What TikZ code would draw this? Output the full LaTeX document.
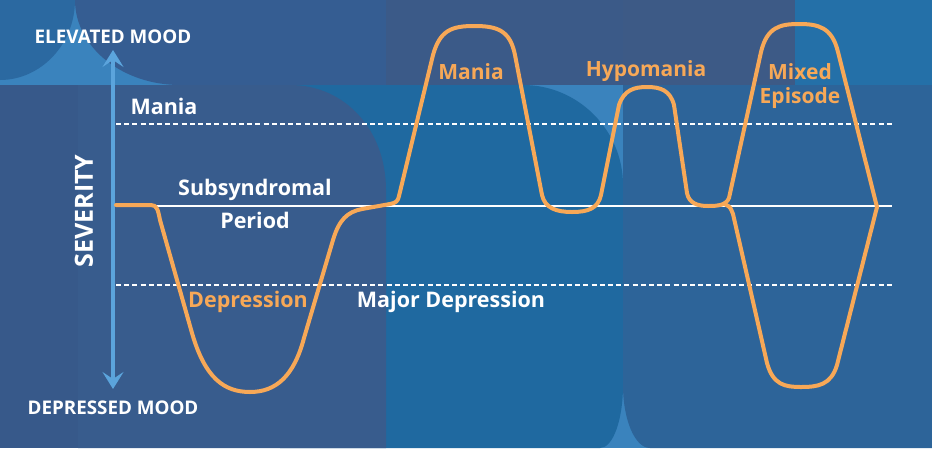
\documentclass[tikz,border=0pt]{standalone}
\usepackage{fontspec}
\setmainfont{Open Sans}
\usetikzlibrary{arrows.meta}
\definecolor{bglight}{HTML}{3A83BD}
\definecolor{bgcorner}{HTML}{2B69A1}
\definecolor{bgtopleft}{HTML}{355D92}
\definecolor{bgstrip}{HTML}{37598A}
\definecolor{bgslate}{HTML}{385C8D}
\definecolor{bgbright}{HTML}{1F69A0}
\definecolor{bgtopmid}{HTML}{3B5A88}
\definecolor{bgtopright}{HTML}{3D5A86}
\definecolor{bgcornerright}{HTML}{2470A8}
\definecolor{bgright}{HTML}{2D6499}
\definecolor{axisblue}{HTML}{5BA4DC}
\definecolor{moodorange}{HTML}{F7A857}
\tikzset{
  level/.style={white, line width=2pt, dash pattern=on 5pt off 3.2pt},
  moodline/.style={moodorange, line width=4pt, line join=round, line cap=round},
  wlabel/.style={text=white, font=\fontsize{21.5}{23}\selectfont\bfseries, inner sep=0pt},
  olabel/.style={text=moodorange, font=\fontsize{21}{24}\selectfont\bfseries, inner sep=0pt},
  endlabel/.style={text=white, font=\fontsize{18.8}{20}\selectfont\bfseries, inner sep=0pt}
}
\begin{document}
\begin{tikzpicture}[x=1pt,y=-1pt]
  \useasboundingbox (0,0) rectangle (932,448);

  % background
  \fill[bglight] (0,0) rectangle (932,448);
  \fill[bgcorner] (0,0) -- (75,0) .. controls (75,44) and (41,80) .. (0,80) -- cycle;
  \fill[bgtopleft] (75,0) -- (386,0) -- (386,85) -- (180,85) .. controls (122,85) and (75,47) .. (75,0) -- cycle;
  \fill[bgtopmid] (386,0) rectangle (623,85);
  \fill[bgtopright] (623,0) rectangle (795,85);
  \fill[bgcornerright] (795,0) rectangle (932,85);
  \fill[bgbright] (280,85) -- (523,85) .. controls (578,85) and (623,130) .. (623,185)
    -- (623,385) .. controls (623,420) and (613,448) .. (600,448) -- (280,448) -- cycle;
  \fill[bgright] (623,85) -- (932,85) -- (932,448) -- (650,448)
    .. controls (635,448) and (623,420) .. (623,385) -- cycle;
  \fill[bgstrip] (0,85) rectangle (78,448);
  \fill[bgslate] (78,85) -- (290,85) .. controls (345,85) and (386,130) .. (386,190)
    -- (386,448) -- (78,448) -- cycle;

  \coordinate (up) at (113,50);
  \coordinate (down) at (113,389);
  \coordinate (m0) at (116,124);
  \coordinate (m1) at (893,124);
  \coordinate (s0) at (116,206);
  \coordinate (s1) at (892,206);
  \coordinate (d0) at (116,285);
  \coordinate (d1) at (893,285);

  % levels
  \draw[level] (m0) -- (m1);
  \draw[level] (d0) -- (d1);
  \draw[white, line width=2.5pt] (s0) -- (s1);

  % severity axis
  \draw[axisblue, line width=4pt,
    {Stealth[length=17pt,width=21pt,inset=7pt]}-{Stealth[length=17pt,width=21pt,inset=7pt]}]
    (up) -- (down);

  % mood course
  \draw[moodline] (116,205) -- (151,205)
    .. controls (157,205) and (158,210) .. (160,220)
    -- (192,333)
    .. controls (205,378) and (224,392) .. (250,392)
    .. controls (276,392) and (294,376) .. (304,338)
    -- (333,240)
    .. controls (339,220) and (347,212) .. (362,209)
    -- (390,204)
    .. controls (396,203) and (398,201) .. (399,196)
    -- (433,55)
    .. controls (440,30) and (452,26) .. (474,26)
    .. controls (497,26) and (510,30) .. (515,55)
    -- (542,195)
    .. controls (545,208) and (556,212) .. (572,212)
    .. controls (589,212) and (598,208) .. (601,195)
    -- (619,105)
    .. controls (624,90) and (634,87) .. (647,87)
    .. controls (660,87) and (670,90) .. (674,105)
    -- (687,193)
    .. controls (689,203) and (697,206) .. (708,206)
    .. controls (719,206) and (726,205) .. (729,198)
    -- (761,52)
    .. controls (767,27) and (780,24) .. (799,24)
    .. controls (818,24) and (832,27) .. (838,52)
    -- (877,207);
  \draw[moodline] (726,205) .. controls (730,206) and (731,209) .. (733,214)
    -- (767,363)
    .. controls (773,385) and (785,387) .. (801,387)
    .. controls (818,387) and (831,385) .. (837,365)
    -- (877,207);

  % labels
  \node[endlabel] (elevated) at (113,37) {ELEVATED MOOD};
  \node[endlabel] (depressed) at (113,408) {DEPRESSED MOOD};
  \node[wlabel, font=\fontsize{25}{28}\selectfont\bfseries, rotate=90] (severity) at (84,211) {SEVERITY};
  \node[wlabel] (manialvl) at (164,106) {Mania};
  \node[wlabel] (sub) at (255,190) {Subsyndromal};
  \node[wlabel] (period) at (255,220) {Period};
  \node[wlabel] (majordep) at (451,302) {Major Depression};
  \node[olabel, font=\fontsize{21.5}{23}\selectfont\bfseries] (dep) at (248,302) {Depression};
  \node[olabel] (mania) at (471,72) {Mania};
  \node[olabel] (hypo) at (646,71) {Hypomania};
  \node[olabel, align=center] (mixed) at (800,86) {Mixed\\Episode};
\end{tikzpicture}
\end{document}
